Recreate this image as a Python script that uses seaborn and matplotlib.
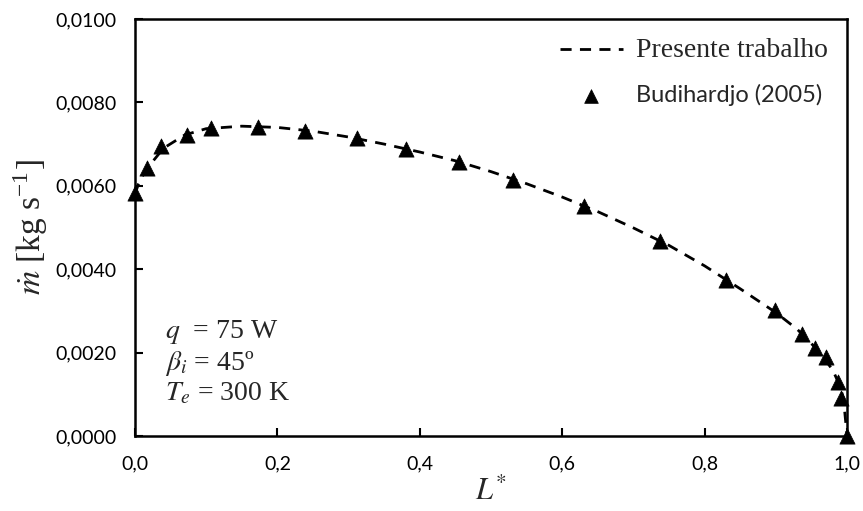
import matplotlib
matplotlib.use("Agg")
import matplotlib.pyplot as plt
import seaborn as sns
import pandas as pd
from matplotlib.ticker import FuncFormatter

# Data
line_x = [0.0, 0.005, 0.01, 0.02, 0.04, 0.07, 0.10, 0.15, 0.20, 0.25, 0.30, 0.35, 0.40, 0.45,
          0.50, 0.55, 0.60, 0.65, 0.70, 0.75, 0.80, 0.85, 0.90, 0.93, 0.96, 0.98, 0.99, 0.995, 1.0]
line_y = [0.00580, 0.00605, 0.00622, 0.00648, 0.00690, 0.00722, 0.00737, 0.00743, 0.00740,
          0.00731, 0.00717, 0.00700, 0.00681, 0.00660, 0.00634, 0.00605, 0.00573, 0.00538,
          0.00499, 0.00457, 0.00408, 0.00353, 0.00296, 0.00256, 0.00204, 0.00158, 0.00120,
          0.00090, 0.00000]

pts_x = [0.000, 0.017, 0.037, 0.073, 0.107, 0.173, 0.239, 0.312, 0.381, 0.455, 0.531,
         0.631, 0.737, 0.830, 0.899, 0.937, 0.955, 0.971, 0.987, 0.992, 1.000]
pts_y = [0.00583, 0.00643, 0.00695, 0.00722, 0.00739, 0.00741, 0.00731, 0.00715, 0.00688,
         0.00657, 0.00614, 0.00552, 0.00468, 0.00374, 0.00302, 0.00245, 0.00211, 0.00189,
         0.00129, 0.00091, 0.00000]

x_ticks = [0.0, 0.2, 0.4, 0.6, 0.8, 1.0]
y_ticks = [0.0, 0.002, 0.004, 0.006, 0.008, 0.010]

label_line = "Presente trabalho"
label_pts = "Budihardjo (2005)"

sns.set_theme(style="ticks")
plt.rcParams['font.family'] = ['Lato', 'DejaVu Sans']
plt.rcParams['mathtext.fontset'] = 'stix'

fig = plt.figure(figsize=(8.63, 5.11), dpi=100)
ax = fig.add_axes([0.1564, 0.1468, 0.9815 - 0.1564, 0.9628 - 0.1468])

df_line = pd.DataFrame({"x": line_x, "y": line_y})
df_pts = pd.DataFrame({"x": pts_x, "y": pts_y})

sns.lineplot(data=df_line, x="x", y="y", ax=ax, color="black", linestyle=(0, (4, 3)),
             linewidth=2.0, label=label_line, sort=False)
sns.scatterplot(data=df_pts, x="x", y="y", ax=ax, marker="^", color="black", s=120,
                edgecolor="black", linewidth=0.5, label=label_pts, zorder=5, clip_on=False)

ax.set_xlim(0, 1.0)
ax.set_ylim(0, 0.010)
ax.set_xticks(x_ticks)
ax.set_yticks(y_ticks)
ax.xaxis.set_major_formatter(FuncFormatter(lambda v, p: f"{v:.1f}".replace(".", ",")))
ax.yaxis.set_major_formatter(FuncFormatter(lambda v, p: f"{v:.4f}".replace(".", ",")))
ax.tick_params(direction="in", length=6, width=1.5, labelsize=14, colors="black")
ax.tick_params(axis="x", pad=14)
ax.tick_params(axis="y", pad=13)
for sp in ax.spines.values():
    sp.set_visible(True)
    sp.set_linewidth(1.8)
    sp.set_color("black")

ax.set_xlabel(r"$L^{*}$", fontsize=22, family="Liberation Serif", labelpad=4)
ax.set_ylabel(r"$\dot{m}$ [kg s$^{\mathregular{-1}}$]", fontsize=24, family="Liberation Serif",
              labelpad=4)

leg = ax.legend(loc="upper right", frameon=False, fontsize=17, handlelength=2.7,
                labelspacing=0.9, borderaxespad=0.4, handletextpad=0.55,
                markerscale=0.9)
texts = leg.get_texts()
texts[0].set_fontfamily("Liberation Serif")
texts[0].set_fontsize(20)
texts[1].set_fontfamily("Lato")
texts[1].set_fontsize(17)

ax.text(0.042, 0.249, r"$q$  = 75 W", transform=ax.transAxes, fontsize=20,
        family="Liberation Serif", va="center")
ax.text(0.042, 0.175, r"$\beta_{i}$ = 45º", transform=ax.transAxes, fontsize=20,
        family="Liberation Serif", va="center")
ax.text(0.042, 0.101, r"$T_{e}$ = 300 K", transform=ax.transAxes, fontsize=20,
        family="Liberation Serif", va="center")

fig.savefig("out.png", dpi=100)
